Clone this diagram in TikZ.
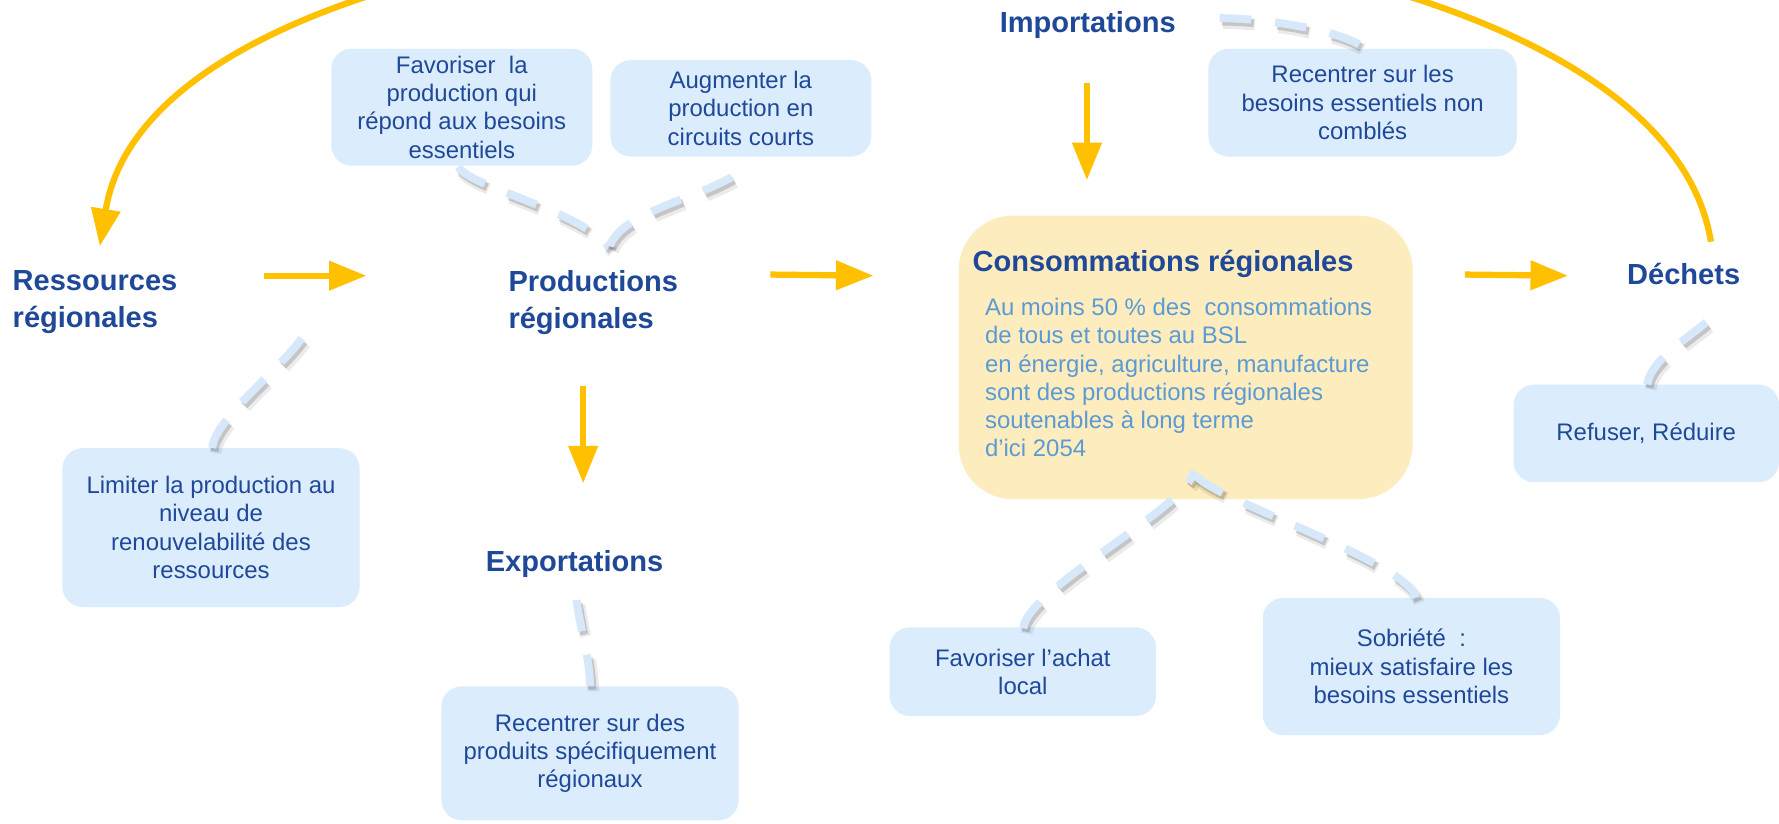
\documentclass[tikz,border=0pt]{standalone}
\usepackage{fontspec}
\setmainfont{Liberation Sans}
\usetikzlibrary{arrows.meta,calc}
\definecolor{tblue}{RGB}{31,73,152}
\definecolor{lbox}{RGB}{219,236,252}
\definecolor{dline}{RGB}{214,232,250}
\definecolor{org}{RGB}{255,192,0}
\definecolor{ybox}{RGB}{253,236,190}
\definecolor{btext}{RGB}{91,155,213}
\newcommand{\mydlink}[1]{%
  \draw[dshadowB,transform canvas={shift={(3pt,-4.5pt)}}] #1;
  \draw[dshadowA,transform canvas={shift={(2pt,-3pt)}}] #1;
  \draw[dlink] #1;}
\begin{document}
\begin{tikzpicture}[x=1pt,y=-1pt,
  ttl/.style={font=\fontsize{25.6}{33}\selectfont\bfseries, text=tblue, align=left, inner sep=0pt, anchor=north west},
  boxn/.style={fill=lbox, rounded corners=18pt, align=center, inner sep=0pt, font=\fontsize{21.1}{25}\selectfont, text=tblue},
  consbox/.style={fill=ybox, rounded corners=48pt, inner sep=0pt},
  bodytxt/.style={font=\fontsize{21.1}{24.7}\selectfont, text=btext, align=left, inner sep=0pt, anchor=north west},
  arr/.style={draw=org, line width=5.5pt, -{Triangle[length=33pt,width=25pt]}},
  dlink/.style={draw=dline, line width=7pt, dash pattern=on 28pt off 21pt},
  dshadowA/.style={draw=black, opacity=0.16, line width=7pt, dash pattern=on 28pt off 21pt},
  dshadowB/.style={draw=black, opacity=0.08, line width=10pt, dash pattern=on 28pt off 21pt}
]
\useasboundingbox (0,0) rectangle (1568,725.4);
\fill[white] (0,0) rectangle (1568,725.4);

% yellow box
\node[consbox, minimum width=400pt, minimum height=250pt] (cons) at (1045,315) {};
\node[ttl] (constitle) at (857,220) {Consommations régionales};
\node[bodytxt] (consbody) at (868,263) {Au moins 50 \% des~~consommations\\de tous et toutes au BSL\\en énergie, agriculture, manufacture\\sont des productions régionales\\soutenables à long terme\\d’ici 2054};

% titles
\node[ttl] (res) at (11,238) {Ressources\\régionales};
\node[ttl] (prod) at (448,238) {Productions\\régionales};
\node[ttl] (exp) at (428,485) {Exportations};
\node[ttl] (imp) at (881,10) {Importations};
\node[ttl] (dech) at (1434,232) {Déchets};

% light blue boxes
\node[boxn, minimum width=230pt, minimum height=103pt] (b1) at (407,94.5) {Favoriser~~la\\production qui\\répond aux besoins\\essentiels};
\node[boxn, minimum width=230pt, minimum height=85pt] (b2) at (653,95.5) {Augmenter la\\production en\\circuits courts};
\node[boxn, minimum width=272pt, minimum height=95pt] (b3) at (1201,90.5) {Recentrer sur les\\besoins essentiels non\\comblés};
\node[boxn, minimum width=262pt, minimum height=140pt] (b4) at (186,465) {Limiter la production au\\niveau de\\renouvelabilité des\\ressources};
\node[boxn, minimum width=262pt, minimum height=118pt] (b5) at (520,664) {Recentrer sur des\\produits spécifiquement\\régionaux};
\node[boxn, minimum width=235pt, minimum height=78pt] (b6) at (901.5,592) {Favoriser l’achat\\local};
\node[boxn, minimum width=262pt, minimum height=121pt] (b7) at (1244,587.5) {Sobriété~~:\\mieux satisfaire les\\besoins essentiels};
\node[boxn, minimum width=234pt, minimum height=86pt] (b8) at (1451,382) {Refuser, Réduire};

% dashed links
\mydlink{($(b1.south)+(-3,1)$) .. controls +(11,18) and +(-27,-33) .. ($(prod.north west)+(89,-20)$)}
\mydlink{($(b2.south)+(-8,18)$) .. controls +(-40,22) and +(10,-30) .. ($(prod.north west)+(89,-20)$)}
\mydlink{($(b4.north)+(1,0)$) .. controls +(3,-30) and +(-5,25) .. ($(res.north west)+(261,48)$)}
\mydlink{(b5.north) .. controls +(0,-25) and +(3,25) .. ($(exp.north west)+(80,43)$)}
\mydlink{($(b6.north)+(0.5,1)$) .. controls +(2,-34) and +(-2,30) .. ($(cons.south)+(7,-25)$)}
\mydlink{($(b7.north)+(4,0)$) .. controls +(-8,-32) and +(16,21) .. ($(cons.south)+(9,-21)$)}
\mydlink{($(imp.north west)+(194,6)$) .. controls +(40,0) and +(-20,-15) .. ($(b3.north)+(1,-1)$)}
\mydlink{($(b8.north)+(1,0)$) .. controls +(2,-20) and +(-18,15) .. ($(dech.north west)+(70,52)$)}

% orange arrows
\draw[arr] ($(res.north west)+(222,5)$) -- ($(prod.north west)+(-125,5)$);
\draw[arr] ($(prod.north west)+(231,4)$) -- ($(cons.west)+(-75,-72)$);
\draw[arr] ($(cons.east)+(46,-73)$) -- ($(dech.north west)+(-52,11)$);
\draw[arr] ($(prod.north west)+(66,102)$) -- ($(exp.north west)+(86,-59)$);
\draw[arr] ($(imp.north west)+(77,63)$) -- ($(cons.north)+(-87,-31)$);
\draw[arr] ($(dech.north west)+(74,-19)$) .. controls +(-60,-367) and +(60,-371) .. ($(res.north west)+(77,-21)$);
\end{tikzpicture}
\end{document}
